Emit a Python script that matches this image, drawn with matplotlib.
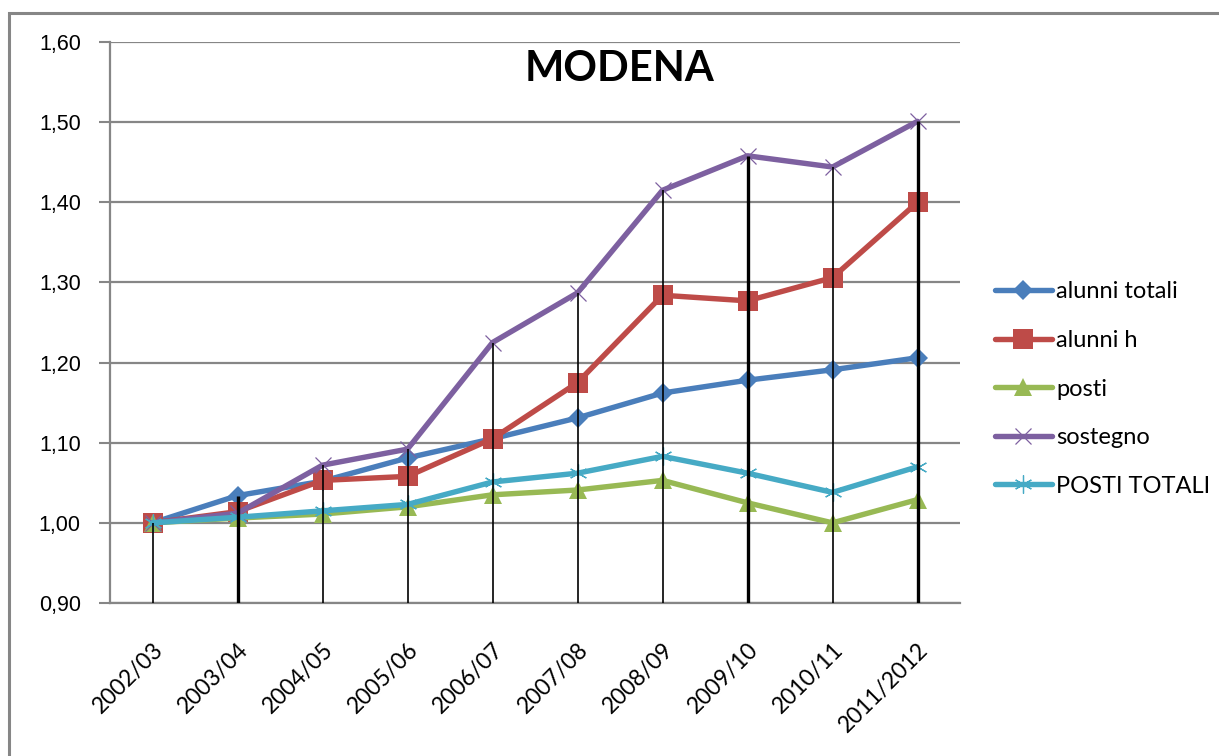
import matplotlib.pyplot as plt
import numpy as np
from matplotlib.patches import Rectangle

anni = ['2002/03', '2003/04', '2004/05', '2005/06', '2006/07',
        '2007/08', '2008/09', '2009/10', '2010/11', '2011/2012']

alunni_totali = [1.000, 1.034, 1.052, 1.081, 1.105, 1.131, 1.162, 1.178, 1.191, 1.206]
alunni_h = [1.000, 1.014, 1.053, 1.058, 1.105, 1.175, 1.284, 1.277, 1.306, 1.400]
posti = [1.000, 1.006, 1.011, 1.020, 1.035, 1.041, 1.053, 1.025, 1.000, 1.029]
sostegno = [1.000, 1.012, 1.072, 1.092, 1.225, 1.287, 1.415, 1.458, 1.444, 1.501]
posti_totali = [1.000, 1.007, 1.015, 1.023, 1.051, 1.062, 1.083, 1.062, 1.038, 1.070]

serie = [
    ('alunni totali', alunni_totali, '#4a7ebb', 'D', 10),
    ('alunni h', alunni_h, '#be4b48', 's', 14),
    ('posti', posti, '#98b954', '^', 13),
    ('sostegno', sostegno, '#7d60a0', 'x', 12),
    ('POSTI TOTALI', posti_totali, '#46aac5', (6, 2, 0), 13),
]

grigio = '#868686'
fig = plt.figure(figsize=(12.19, 7.56), dpi=100)
# cornice esterna del grafico (solo lati sinistro e superiore visibili)
fig.patches.append(Rectangle((9 / 1219, -0.05), 1.2, 1 - 13 / 756 + 0.05,
                             transform=fig.transFigure, fill=False,
                             edgecolor=grigio, linewidth=2.2))

ax = fig.add_axes([110 / 1219, 1 - 603 / 756, 850 / 1219, 561 / 756])
x = np.arange(len(anni))

for nome, valori, colore, marker, ms in serie:
    thin = marker in ('x', (6, 2, 0))
    ax.plot(x, valori, color=colore, lw=3.9, marker=marker, markersize=ms,
            markeredgewidth=0.9 if thin else 0, markeredgecolor=colore,
            label=nome, zorder=3, solid_capstyle='round')

# linee di proiezione dal valore massimo all'asse
massimi = np.max([alunni_totali, alunni_h, posti, sostegno, posti_totali], axis=0)
spessori = [1.2, 2.4, 1.2, 1.2, 1.2, 1.2, 1.2, 2.4, 1.2, 2.4]
ax.vlines(x, 0.90, massimi, colors='black', linewidth=spessori, zorder=4)

ax.set_ylim(0.90, 1.60)
ax.set_xlim(-0.5, len(anni) - 0.5)
yt = np.round(np.arange(0.90, 1.601, 0.10), 2)
ax.set_yticks(yt)
ax.set_yticklabels([f'{v:.2f}'.replace('.', ',') for v in yt],
                   fontsize=15.5, family='Liberation Sans')
ax.tick_params(axis='y', length=8, width=1.5, color=grigio, pad=13, direction='out')
ax.grid(axis='y', color=grigio, linewidth=1.6, zorder=0)
ax.set_axisbelow(True)

ax.set_xticks(x)
ax.set_xticklabels(anni, rotation=45, ha='right', va='top',
                   rotation_mode='anchor', fontsize=16.5, family='Lato')
ax.tick_params(axis='x', length=0, pad=26)

for s in ('top', 'right'):
    ax.spines[s].set_visible(False)
for s in ('left', 'bottom'):
    ax.spines[s].set_color(grigio)
    ax.spines[s].set_linewidth(1.6)

ax.text(0.60, 0.985, 'MODENA', transform=ax.transAxes, ha='center', va='top',
        fontsize=30, fontweight='bold', family='Lato')

leg = ax.legend(loc='center left', bbox_to_anchor=(1.03, (603 - 389) / 561),
                frameon=False, prop={'family': 'Lato', 'size': 17},
                handlelength=2.4, labelspacing=1.17, handletextpad=0.2,
                borderaxespad=0)

fig.savefig('out.png', dpi=100)
